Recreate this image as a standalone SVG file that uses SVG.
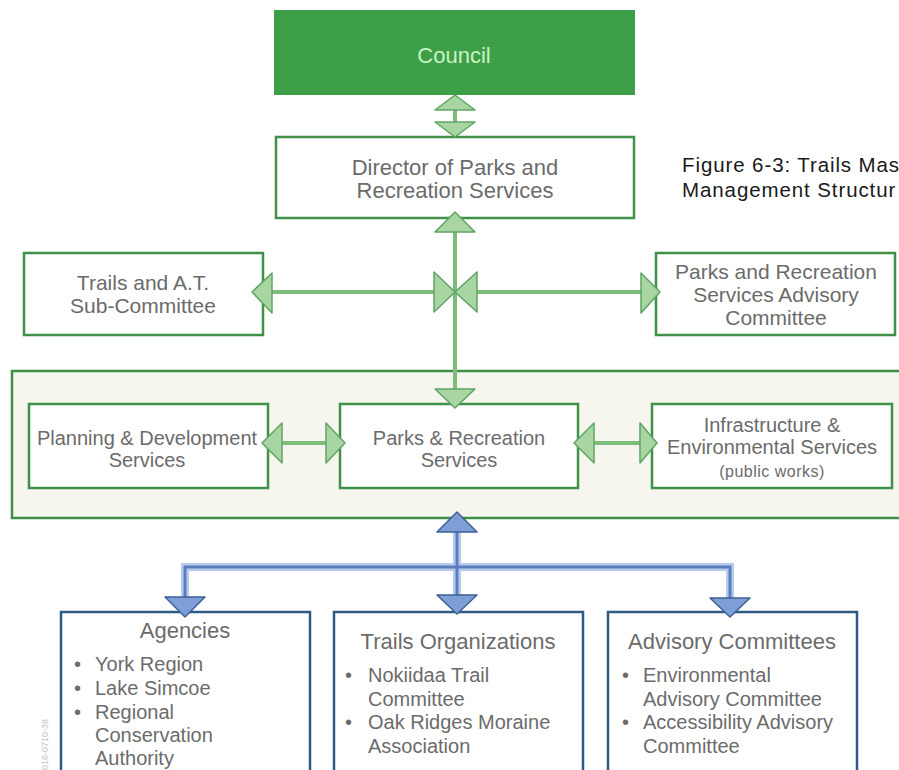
<svg xmlns="http://www.w3.org/2000/svg" width="899" height="770" viewBox="0 0 899 770">
<style>
text{font-family:"Liberation Sans",Arial,sans-serif;fill:#6b6b6b}
.t22{font-size:22px;text-anchor:middle}
.t21{font-size:21px;text-anchor:middle}
.t20{font-size:20px;text-anchor:middle}
.b20{font-size:20px}
.gbox{fill:#ffffff;stroke:#3f9147;stroke-width:2.5}
.bbox{fill:#ffffff;stroke:#2e5a86;stroke-width:2.5}
.gl{stroke:#7dbd7a;stroke-width:4;fill:none}
.ga{fill:#a8d5a2;stroke:#5ea565;stroke-width:1.5;stroke-linejoin:round}
.blh{stroke:#b9cbea;stroke-width:8;fill:none}
.blc{stroke:#5a7dbd;stroke-width:3;fill:none}
.ba{fill:#7d9fd6;stroke:#3e5f98;stroke-width:1.5;stroke-linejoin:round}
.cap{font-size:20.5px;fill:#1a1a1a;letter-spacing:0.9px}
</style>
<rect width="899" height="770" fill="#ffffff"/>

<g id="container">
<rect x="12" y="371" width="900" height="147" fill="#f6f6ef" stroke="#3f8f48" stroke-width="2.5"/>
</g>

<g id="council">
<rect x="274" y="10" width="361" height="85" fill="#3d9f48"/>
<text x="454" y="63" class="t22" style="fill:#c9f3c2">Council</text>
</g>

<g id="director">
<rect x="276" y="137" width="358" height="81" class="gbox"/>
<text x="455" y="175" class="t22">Director of Parks and</text>
<text x="455" y="198" class="t22">Recreation Services</text>
</g>

<g id="caption">
<text x="682" y="172" class="cap">Figure 6-3: Trails Mas</text>
<text x="682" y="197" class="cap">Management Structur</text>
</g>

<g id="trails-at">
<rect x="24" y="253" width="239" height="82" class="gbox"/>
<text x="143" y="290" class="t21">Trails and A.T.</text>
<text x="143" y="313" class="t21">Sub-Committee</text>
</g>

<g id="parks-advisory">
<rect x="656" y="253" width="239" height="82" class="gbox"/>
<text x="776" y="279" class="t21">Parks and Recreation</text>
<text x="776" y="302" class="t21">Services Advisory</text>
<text x="776" y="325" class="t21">Committee</text>
</g>

<g id="planning">
<rect x="29" y="404" width="239" height="84" class="gbox"/>
<text x="147" y="445" class="t20">Planning &amp; Development</text>
<text x="147" y="467" class="t20">Services</text>
</g>

<g id="parks-rec">
<rect x="340" y="404" width="238" height="84" class="gbox"/>
<text x="459" y="445" class="t20">Parks &amp; Recreation</text>
<text x="459" y="467" class="t20">Services</text>
</g>

<g id="infrastructure">
<rect x="652" y="404" width="240" height="84" class="gbox"/>
<text x="772" y="432" class="t20">Infrastructure &amp;</text>
<text x="772" y="454" class="t20">Environmental Services</text>
<text x="772" y="477" style="font-size:16px;text-anchor:middle;letter-spacing:0.5px">(public works)</text>
</g>

<g id="agencies">
<rect x="61" y="612" width="249" height="180" class="bbox"/>
<text x="185" y="638" class="t22">Agencies</text>
<text x="74" y="671" class="b20">•</text><text x="95" y="671" class="b20">York Region</text>
<text x="74" y="695" class="b20">•</text><text x="95" y="695" class="b20">Lake Simcoe</text>
<text x="74" y="719" class="b20">•</text><text x="95" y="719" class="b20">Regional</text>
<text x="95" y="742" class="b20">Conservation</text>
<text x="95" y="765" class="b20">Authority</text>
</g>

<g id="trails-orgs">
<rect x="334" y="612" width="249" height="180" class="bbox"/>
<text x="458" y="649" class="t22">Trails Organizations</text>
<text x="345" y="682" class="b20">•</text><text x="368" y="682" class="b20">Nokiidaa Trail</text>
<text x="368" y="706" class="b20">Committee</text>
<text x="345" y="729" class="b20">•</text><text x="368" y="729" class="b20">Oak Ridges Moraine</text>
<text x="368" y="753" class="b20">Association</text>
</g>

<g id="advisory-committees">
<rect x="608" y="612" width="249" height="180" class="bbox"/>
<text x="732" y="649" class="t22">Advisory Committees</text>
<text x="622" y="682" class="b20">•</text><text x="643" y="682" class="b20">Environmental</text>
<text x="643" y="706" class="b20">Advisory Committee</text>
<text x="622" y="729" class="b20">•</text><text x="643" y="729" class="b20">Accessibility Advisory</text>
<text x="643" y="753" class="b20">Committee</text>
</g>

<g id="code">
<text x="0" y="0" transform="translate(48,770) rotate(-90)" style="font-size:9px;fill:#c4c4c4">016-0710-38</text>
</g>

<g id="connectors">
<line x1="455" y1="110" x2="455" y2="122" class="gl"/>
<polygon points="455,95 435,110 475,110" class="ga"/>
<polygon points="435,122 475,122 455,137" class="ga"/>
<line x1="455" y1="232" x2="455" y2="389" class="gl"/>
<polygon points="455,212 435,232 475,232" class="ga"/>
<polygon points="435,389 475,389 455,408" class="ga"/>
<line x1="272" y1="292" x2="641" y2="292" class="gl"/>
<polygon points="252,292 272,273 272,313" class="ga"/>
<polygon points="434,272 434,312 455,292" class="ga"/>
<polygon points="477,272 477,312 455,292" class="ga"/>
<polygon points="641,273 641,313 660,292" class="ga"/>
<line x1="282" y1="443" x2="326" y2="443" class="gl"/>
<polygon points="262,443 282,423 282,463" class="ga"/>
<polygon points="326,423 326,463 345,443" class="ga"/>
<line x1="594" y1="443" x2="640" y2="443" class="gl"/>
<polygon points="574,443 594,423 594,463" class="ga"/>
<polygon points="640,423 640,463 657,443" class="ga"/>
<path d="M457,532 V596 M185,598 V567 H730 V598" class="blh"/>
<path d="M457,532 V596 M185,598 V567 H730 V598" class="blc"/>
<polygon points="457,512 437,532 477,532" class="ba"/>
<polygon points="165,597 205,597 185,617" class="ba"/>
<polygon points="437,595 477,595 457,614" class="ba"/>
<polygon points="710,598 750,598 730,617" class="ba"/>
</g>
</svg>
